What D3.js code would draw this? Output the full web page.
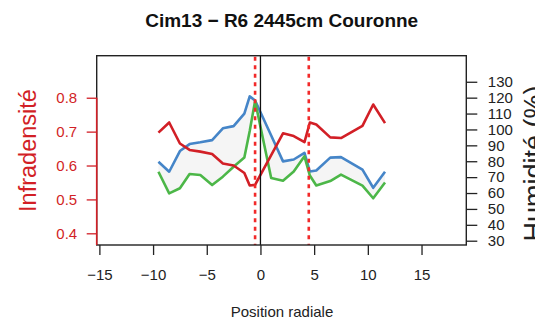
<!DOCTYPE html>
<html><head><meta charset="utf-8">
<script src="https://cdn.jsdelivr.net/npm/d3@7"></script>
<style>
html,body{margin:0;padding:0;background:#fff;}
svg{display:block;font-family:"Liberation Sans",Arial,Helvetica,sans-serif;}
</style></head>
<body>
<svg id="chart" width="535" height="325"></svg>
<script>
// ---- data ----
const positions = [-9.5,-8.5,-7.5,-6.6,-5.6,-4.5,-3.5,-2.5,-1.5,-1.0,-0.5,1.0,2.1,3.1,4.1,4.6,5.2,6.5,7.5,9.5,10.5,11.6];
const infradensite = [0.697,0.727,0.665,0.646,0.641,0.634,0.606,0.600,0.578,0.541,0.543,0.631,0.695,0.687,0.669,0.727,0.721,0.683,0.681,0.717,0.780,0.725];
const humiditeHaute = [79.7,73.4,86.4,90.8,91.9,93.3,100.7,102.1,110.0,120.8,118.2,96.2,79.9,81.1,85.2,73.5,74.2,82.3,82.6,74.7,63.3,73.4];
const humiditeBasse = [73.4,59.8,63.0,72.0,71.3,65.0,70.3,76.5,82.3,99.0,117.9,69.4,67.7,73.5,83.1,71.0,64.7,67.5,71.6,64.7,56.7,66.6];
const limites = [-0.5, 4.5];
const moelle = 0;
const xTicks = [-15,-10,-5,0,5,10,15];
const leftTicks = [0.4,0.5,0.6,0.7,0.8];
const rightTicks = [30,40,50,60,70,80,90,100,110,120,130];
const title = "Cim13 \u2212 R6 2445cm Couronne";
const xLabel = "Position radiale";
const leftLabel = "Infradensit\u00e9";
const rightLabel = "Humidit\u00e9 (%)";

// ---- layout ----
const L = 96.7, R = 466.3, T = 55.7, B = 245;
const svg = d3.select("#chart");
const x = d3.scaleLinear().domain([-15.25, 19.17]).range([L, R]);
const yL = d3.scaleLinear().domain([0.3655, 0.924]).range([B, T]);
const yR = d3.scaleLinear().domain([27.3, 146.4]).range([B, T]);
const red = "#D21F26", blue = "#4585C8", green = "#4CB748", dashRed = "#F22A2A";
const fs = 15;

const rows = positions.map((p,i)=>({p, d:infradensite[i], h:humiditeHaute[i], b:humiditeBasse[i]}));

// fill between humidity curves
svg.append("path").datum(rows)
  .attr("d", d3.area().x(r=>x(r.p)).y0(r=>yR(r.b)).y1(r=>yR(r.h)))
  .attr("fill", "#F5F5F5").attr("stroke","none");

const lineW = 2.6;
svg.append("path").datum(rows).attr("fill","none").attr("stroke",blue).attr("stroke-width",lineW)
  .attr("stroke-linejoin","round")
  .attr("d", d3.line().x(r=>x(r.p)).y(r=>yR(r.h)));
svg.append("path").datum(rows).attr("fill","none").attr("stroke",green).attr("stroke-width",lineW)
  .attr("stroke-linejoin","round")
  .attr("d", d3.line().x(r=>x(r.p)).y(r=>yR(r.b)));
svg.append("path").datum(rows).attr("fill","none").attr("stroke",red).attr("stroke-width",lineW)
  .attr("stroke-linejoin","round")
  .attr("d", d3.line().x(r=>x(r.p)).y(r=>yL(r.d)));

// vertical reference lines
svg.append("line").attr("x1",x(moelle)).attr("x2",x(moelle)).attr("y1",T).attr("y2",B)
  .attr("stroke","#111").attr("stroke-width",1.3);
svg.selectAll("line.lim").data(limites).enter().append("line").attr("class","lim")
  .attr("x1",d=>x(d)).attr("x2",d=>x(d)).attr("y1",T+1).attr("y2",B)
  .attr("stroke",dashRed).attr("stroke-width",2.6).attr("stroke-dasharray","4,4.5");

// box
svg.append("rect").attr("x",L).attr("y",T).attr("width",R-L).attr("height",B-T)
  .attr("fill","none").attr("stroke","#222").attr("stroke-width",1.4);

// bottom axis
const gx = svg.append("g").attr("transform",`translate(0,${B})`)
  .call(d3.axisBottom(x).tickValues(xTicks).tickSize(10).tickPadding(14.3).tickFormat(d=>d<0?"\u2212"+Math.abs(d):d));
gx.select(".domain").remove();
gx.selectAll("line").attr("stroke","#222").attr("stroke-width",1.3);
gx.selectAll("text").attr("font-size",fs).attr("fill","#222").attr("font-family","Liberation Sans, Arial, sans-serif");

// left axis (red)
const gl = svg.append("g").attr("transform",`translate(${L},0)`)
  .call(d3.axisLeft(yL).tickValues(leftTicks).tickSize(10).tickPadding(9.5).tickFormat(d3.format(".1f")));
gl.select(".domain").remove();
gl.selectAll("line").attr("stroke",red).attr("stroke-width",1.3);
gl.selectAll("text").attr("font-size",fs).attr("fill",red).attr("font-family","Liberation Sans, Arial, sans-serif");
svg.append("line").attr("x1",L).attr("x2",L).attr("y1",yL(0.8)).attr("y2",B)
  .attr("stroke",red).attr("stroke-width",1.6);

// right axis
const gr = svg.append("g").attr("transform",`translate(${R},0)`)
  .call(d3.axisRight(yR).tickValues(rightTicks).tickSize(11).tickPadding(10.5));
gr.select(".domain").remove();
gr.selectAll("line").attr("stroke","#222").attr("stroke-width",1.3);
gr.selectAll("text").attr("font-size",fs).attr("fill","#222").attr("font-family","Liberation Sans, Arial, sans-serif");

// titles
svg.append("text").attr("x",281.7).attr("y",26.5).attr("text-anchor","middle")
  .attr("font-size",19).attr("font-weight","bold").attr("fill","#111").text(title);
svg.append("text").attr("x",282).attr("y",316.7).attr("text-anchor","middle")
  .attr("font-size",fs).attr("fill","#222").text(xLabel);
svg.append("text").attr("transform","translate(36,150.5) rotate(-90)").attr("text-anchor","middle")
  .attr("font-size",23.5).attr("fill",red).text(leftLabel);
svg.append("text").attr("transform","translate(543,163.5) rotate(-90)").attr("text-anchor","middle")
  .attr("font-size",27).attr("fill","#222").text(rightLabel);
</script>
</body></html>
